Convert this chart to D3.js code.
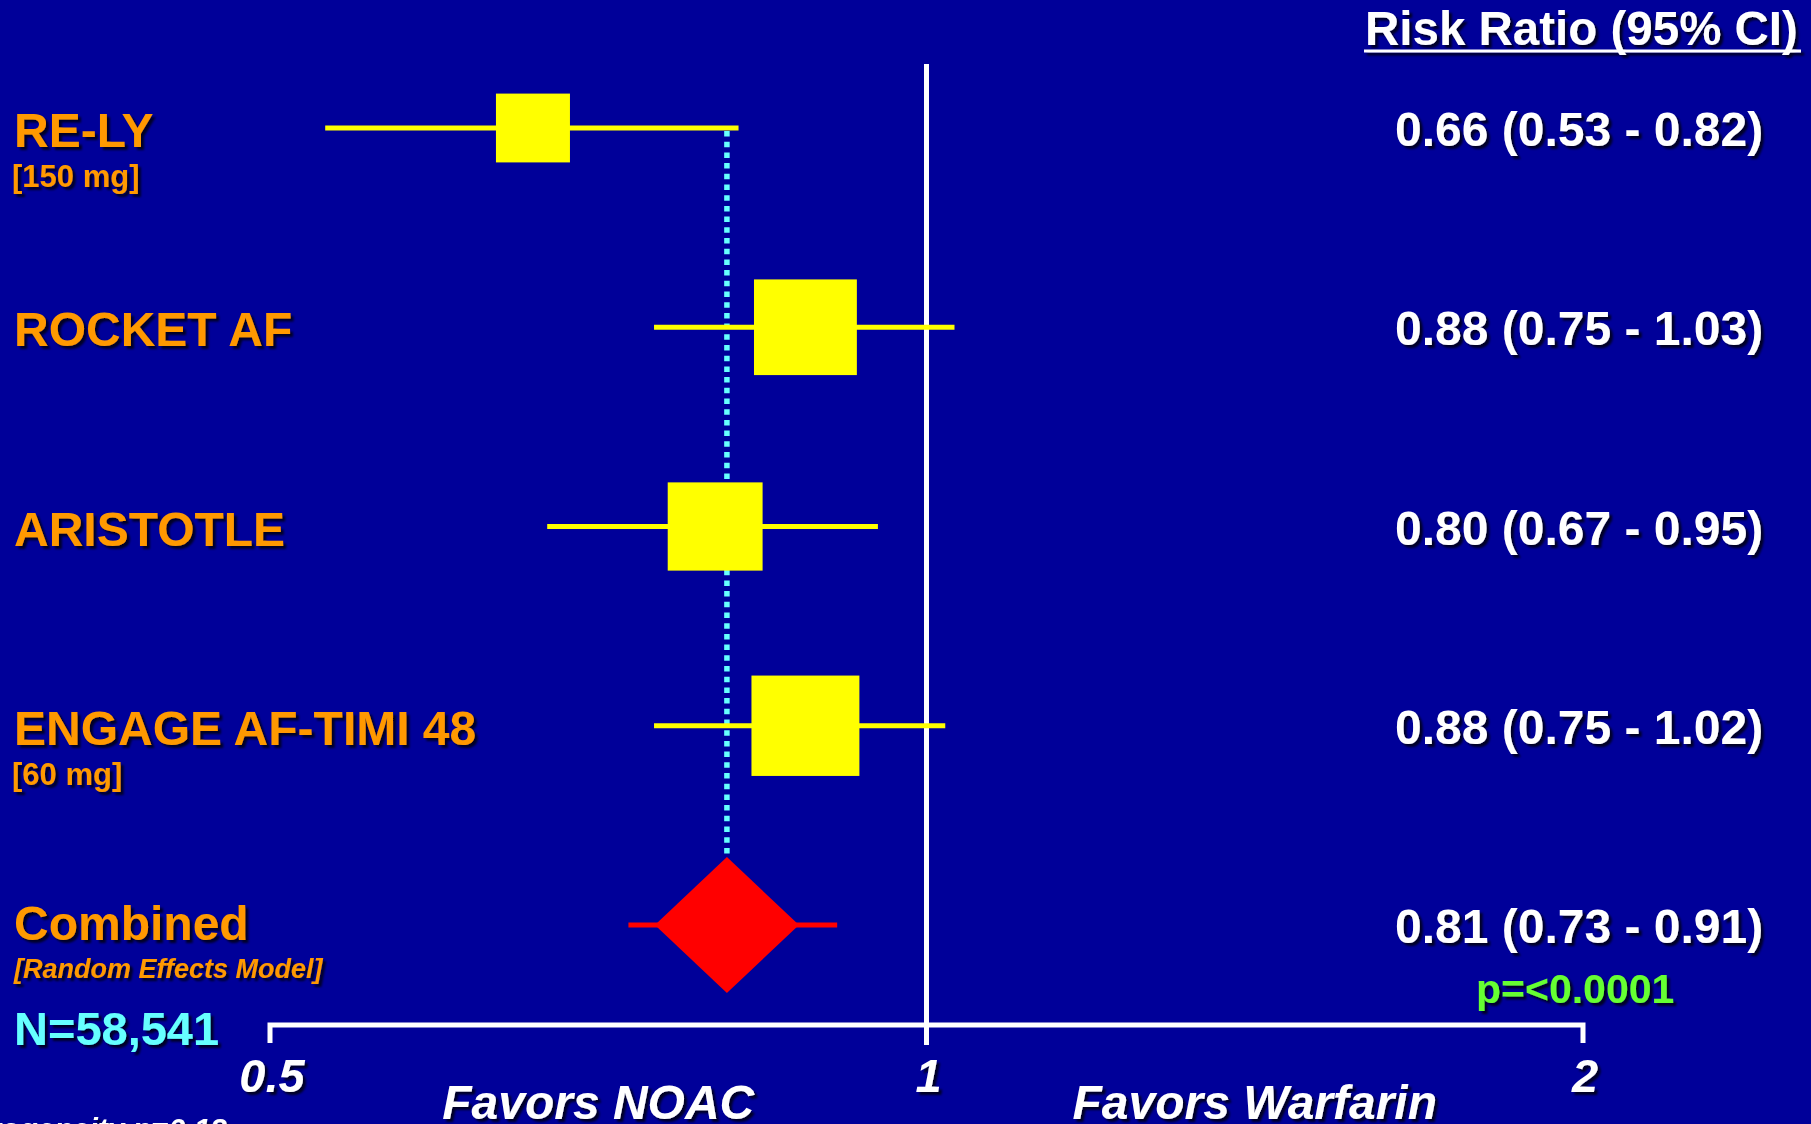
<!DOCTYPE html>
<html>
<head>
<meta charset="utf-8">
<script src="https://cdn.jsdelivr.net/npm/d3@7"></script>
<style>
  html, body { margin: 0; padding: 0; background: #000099; }
  svg { display: block; }
  text { font-family: "Liberation Sans", Arial, sans-serif; font-weight: bold; }
</style>
</head>
<body>
<div id="chart"></div>
<script>
// trial data (risk ratio + 95% CI)
const trials = ["RE-LY", "ROCKET AF", "ARISTOTLE", "ENGAGE AF-TIMI 48"];
const doses = ["[150 mg]", "", "", "[60 mg]"];
const rr = [0.66, 0.88, 0.80, 0.88];
const lower = [0.53, 0.75, 0.67, 0.75];
const upper = [0.82, 1.03, 0.95, 1.02];
const weights = [14.9, 28.8, 24.5, 31.7];

const combinedLabel = "Combined";
const combinedNote = "[Random Effects Model]";
const combined = { rr: 0.81, lower: 0.73, upper: 0.91 };

const tickValues = [0.5, 1, 2];
const favorLabels = ["Favors NOAC", "Favors Warfarin"];

const width = 1811;
const height = 1124;

const svg = d3.select("#chart")
  .append("svg")
  .attr("width", width)
  .attr("height", height);

svg.append("rect")
  .attr("width", width)
  .attr("height", height)
  .attr("fill", "#000099");

// soft dark shadow behind all the text, like the powerpoint original
svg.append("defs")
  .append("filter")
  .attr("id", "shadow")
  .attr("x", "-5%").attr("y", "-20%")
  .attr("width", "115%").attr("height", "150%")
  .append("feDropShadow")
  .attr("dx", 3)
  .attr("dy", 3)
  .attr("stdDeviation", 1.2)
  .attr("flood-color", "#000000")
  .attr("flood-opacity", 0.75);

const x = d3.scaleLog()
  .domain([0.5, 2])
  .range([270, 1583]);

const rows = [...trials, combinedLabel];
const y = d3.scalePoint()
  .domain(rows)
  .range([128, 925]);

const boxSize = d3.scaleSqrt()
  .domain([0, 100])
  .range([0, 191.7]);

const axisY = 1025;
const diamondHalfW = 72;
const diamondHalfH = 68;

// axis: bracket shaped line with ticks at both ends
svg.append("path")
  .attr("d", `M${x(0.5)},${axisY + 18}V${axisY}H${x(2)}V${axisY + 18}`)
  .attr("fill", "none")
  .attr("stroke", "white")
  .attr("stroke-width", 5);

// line of no effect
svg.append("line")
  .attr("x1", x(1)).attr("x2", x(1))
  .attr("y1", 64).attr("y2", axisY + 20)
  .attr("stroke", "white")
  .attr("stroke-width", 5);

// dotted reference line at the pooled estimate
svg.append("line")
  .attr("x1", x(combined.rr)).attr("x2", x(combined.rr))
  .attr("y1", y(trials[0]) + 3)
  .attr("y2", y(combinedLabel) - diamondHalfH)
  .attr("stroke", "#66ffff")
  .attr("stroke-width", 5.5)
  .attr("stroke-dasharray", "5.5 5.2");

const trialData = trials.map((name, i) => ({
  name, dose: doses[i], rr: rr[i], lower: lower[i], upper: upper[i], weight: weights[i]
}));

const g = svg.append("g");

g.selectAll("line.ci")
  .data(trialData)
  .join("line")
  .attr("class", "ci")
  .attr("x1", d => x(d.lower))
  .attr("x2", d => x(d.upper))
  .attr("y1", d => y(d.name))
  .attr("y2", d => y(d.name))
  .attr("stroke", "#ffff00")
  .attr("stroke-width", 5);

g.selectAll("rect.box")
  .data(trialData)
  .join("rect")
  .attr("class", "box")
  .attr("x", d => x(d.rr) - boxSize(d.weight) / 2)
  .attr("y", d => y(d.name) - boxSize(d.weight) * 0.93 / 2)
  .attr("width", d => boxSize(d.weight))
  .attr("height", d => boxSize(d.weight) * 0.93)
  .attr("fill", "#ffff00");

// combined estimate
const cy = y(combinedLabel);
svg.append("line")
  .attr("x1", x(combined.lower)).attr("x2", x(combined.upper))
  .attr("y1", cy).attr("y2", cy)
  .attr("stroke", "#ff0000")
  .attr("stroke-width", 5);

const cx = x(combined.rr);
svg.append("path")
  .attr("d", `M${cx},${cy - diamondHalfH}L${cx + diamondHalfW},${cy}L${cx},${cy + diamondHalfH}L${cx - diamondHalfW},${cy}Z`)
  .attr("fill", "#ff0000");

// ---- text ----
const txt = svg.append("g").attr("filter", "url(#shadow)");

txt.selectAll("text.name")
  .data(trialData)
  .join("text")
  .attr("class", "name")
  .attr("x", 14)
  .attr("y", d => y(d.name) + 19)
  .attr("fill", "#ff9900")
  .attr("font-size", 48)
  .text(d => d.name);

txt.selectAll("text.dose")
  .data(trialData.filter(d => d.dose))
  .join("text")
  .attr("class", "dose")
  .attr("x", 12)
  .attr("y", d => y(d.name) + 59)
  .attr("fill", "#ff9900")
  .attr("font-size", 31)
  .text(d => d.dose);

const fmt = d3.format(".2f");
txt.selectAll("text.value")
  .data(trialData)
  .join("text")
  .attr("class", "value")
  .attr("x", 1395)
  .attr("y", d => y(d.name) + 18)
  .attr("fill", "white")
  .attr("font-size", 48)
  .text(d => `${fmt(d.rr)} (${fmt(d.lower)} - ${fmt(d.upper)})`);

txt.append("text")
  .attr("x", 1395)
  .attr("y", cy + 18)
  .attr("fill", "white")
  .attr("font-size", 48)
  .text(`${fmt(combined.rr)} (${fmt(combined.lower)} - ${fmt(combined.upper)})`);

txt.append("text")
  .attr("x", 14)
  .attr("y", cy + 15)
  .attr("fill", "#ff9900")
  .attr("font-size", 48)
  .text(combinedLabel);

txt.append("text")
  .attr("x", 14)
  .attr("y", cy + 53)
  .attr("fill", "#ff9900")
  .attr("font-size", 27)
  .attr("font-style", "italic")
  .text(combinedNote);

txt.append("text")
  .attr("x", 14)
  .attr("y", 1045)
  .attr("fill", "#66ffff")
  .attr("font-size", 47)
  .text("N=58,541");

txt.append("text")
  .attr("x", 1476)
  .attr("y", 1003)
  .attr("fill", "#66ff33")
  .attr("font-size", 41)
  .text("p=<0.0001");

// header with underline
txt.append("text")
  .attr("x", 1365)
  .attr("y", 45)
  .attr("fill", "white")
  .attr("font-size", 47.5)
  .text("Risk Ratio (95% CI)");
txt.append("line")
  .attr("x1", 1364).attr("x2", 1801)
  .attr("y1", 51).attr("y2", 51)
  .attr("stroke", "white")
  .attr("stroke-width", 3);

// tick labels
txt.selectAll("text.tick")
  .data(tickValues)
  .join("text")
  .attr("class", "tick")
  .attr("x", d => x(d) + 2)
  .attr("y", 1092)
  .attr("text-anchor", "middle")
  .attr("fill", "white")
  .attr("font-size", 47)
  .attr("font-style", "italic")
  .text(d => d);

// favors labels sit halfway (on the log scale) between the ticks
txt.selectAll("text.favor")
  .data(favorLabels)
  .join("text")
  .attr("class", "favor")
  .attr("x", (d, i) => x(i === 0 ? Math.SQRT1_2 : Math.SQRT2))
  .attr("y", 1119)
  .attr("text-anchor", "middle")
  .attr("fill", "white")
  .attr("font-size", 48)
  .attr("font-style", "italic")
  .text(d => d);

// partly cut off at the slide edge in the original
txt.append("text")
  .attr("x", 227)
  .attr("y", 1139)
  .attr("text-anchor", "end")
  .attr("fill", "white")
  .attr("font-size", 30)
  .attr("font-style", "italic")
  .text("Heterogeneity p=0.13");
</script>
</body>
</html>
